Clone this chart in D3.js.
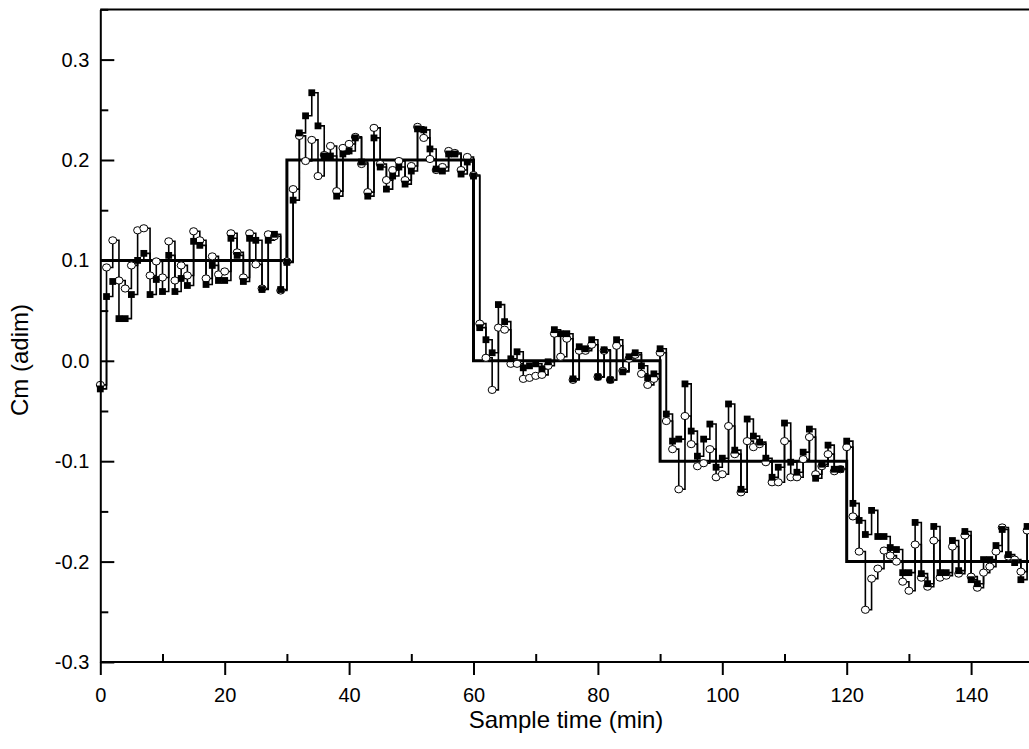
<!DOCTYPE html>
<html>
<head>
<meta charset="utf-8">
<script src="https://cdn.jsdelivr.net/npm/d3@7"></script>
<style>
  html, body { margin: 0; padding: 0; background: #fff; }
  svg { display: block; font-family: "Liberation Sans", Arial, sans-serif; }
</style>
</head>
<body>
<svg id="chart" width="1029" height="749"></svg>
<script>
// ---------------- data ----------------
const sampleTimes = d3.range(0, 150, 1); // sampling grid (min)

const setpointTimes  = [0, 30, 60, 90, 120, 150];
const setpointValues = [0.1, 0.2, 0.0, -0.1, -0.2, -0.2];

const squareValues = [
  -0.028, 0.064, 0.079, 0.042, 0.042, 0.066, 0.100, 0.107, 0.066, 0.081,
   0.069, 0.105, 0.069, 0.082, 0.075, 0.119, 0.115, 0.076, 0.095, 0.080,
   0.080, 0.122, 0.105, 0.079, 0.122, 0.120, 0.071, 0.120, 0.126, 0.071,
   0.098, 0.160, 0.227, 0.244, 0.267, 0.234, 0.204, 0.204, 0.164, 0.206,
   0.209, 0.222, 0.198, 0.164, 0.222, 0.193, 0.171, 0.184, 0.193, 0.176,
   0.189, 0.231, 0.230, 0.211, 0.191, 0.189, 0.206, 0.206, 0.186, 0.198,
   0.184, 0.033, 0.021, 0.008, 0.056, 0.039, 0.002, 0.009, -0.007, -0.005,
  -0.003, -0.008, -0.001, 0.031, 0.027, 0.027, -0.018, 0.014, 0.012, 0.021,
  -0.016, 0.011, -0.019, 0.021, -0.011, 0.004, 0.008, -0.005, -0.017, -0.013,
   0.012, -0.053, -0.080, -0.078, -0.023, -0.070, -0.095, -0.078, -0.063, -0.106,
  -0.097, -0.043, -0.089, -0.128, -0.058, -0.075, -0.081, -0.097, -0.116, -0.106,
  -0.062, -0.101, -0.111, -0.091, -0.068, -0.117, -0.103, -0.084, -0.108, -0.108,
  -0.080, -0.142, -0.159, -0.173, -0.149, -0.175, -0.175, -0.186, -0.188, -0.211,
  -0.211, -0.161, -0.212, -0.222, -0.165, -0.211, -0.211, -0.179, -0.209, -0.170,
  -0.218, -0.222, -0.198, -0.198, -0.184, -0.168, -0.193, -0.201, -0.218, -0.165
];

const circleValues = [
  -0.024, 0.093, 0.120, 0.080, 0.072, 0.095, 0.130, 0.132, 0.085, 0.099,
   0.083, 0.119, 0.080, 0.095, 0.085, 0.129, 0.120, 0.082, 0.104, 0.086,
   0.089, 0.127, 0.108, 0.083, 0.127, 0.096, 0.072, 0.126, 0.124, 0.070,
   0.099, 0.171, 0.224, 0.199, 0.220, 0.184, 0.205, 0.214, 0.169, 0.212,
   0.216, 0.223, 0.196, 0.168, 0.232, 0.196, 0.180, 0.190, 0.199, 0.180,
   0.194, 0.233, 0.222, 0.201, 0.190, 0.193, 0.209, 0.207, 0.190, 0.203,
   0.185, 0.037, 0.003, -0.029, 0.033, 0.031, -0.003, -0.003, -0.018, -0.017,
  -0.015, -0.014, -0.005, 0.027, 0.004, 0.022, -0.019, 0.010, 0.010, 0.016,
  -0.016, 0.010, -0.019, 0.015, -0.010, 0.002, 0.006, -0.013, -0.024, -0.018,
   0.008, -0.060, -0.088, -0.128, -0.055, -0.083, -0.105, -0.102, -0.088, -0.116,
  -0.113, -0.065, -0.093, -0.131, -0.080, -0.086, -0.083, -0.101, -0.121, -0.121,
  -0.080, -0.116, -0.116, -0.098, -0.076, -0.113, -0.105, -0.093, -0.110, -0.108,
  -0.086, -0.155, -0.190, -0.248, -0.217, -0.207, -0.189, -0.194, -0.200, -0.220,
  -0.229, -0.183, -0.216, -0.225, -0.179, -0.216, -0.214, -0.185, -0.212, -0.174,
  -0.215, -0.226, -0.211, -0.205, -0.190, -0.166, -0.195, -0.198, -0.210, -0.169
];

const xMajorTicks = [0, 20, 40, 60, 80, 100, 120, 140];
const xMinorTicks = [10, 30, 50, 70, 90, 110, 130, 150];
const yMajorTicks = [0.3, 0.2, 0.1, 0.0, -0.1, -0.2, -0.3];
const yMinorTicks = [0.35, 0.25, 0.15, 0.05, -0.05, -0.15, -0.25];
const xTitle = "Sample time (min)";
const yTitle = "Cm (adim)";

// ---------------- layout ----------------
const svg = d3.select("#chart");
const x = d3.scaleLinear().domain([0, 150]).range([100.3, 1033.3]);
const y = d3.scaleLinear().domain([-0.3, 0.35]).range([662, 9.4]);

const fmt = d => d3.format(".1f")(d).replace("−", "-");

// top frame line
svg.append("line")
  .attr("x1", x(0)).attr("x2", x(150))
  .attr("y1", y(0.35)).attr("y2", y(0.35))
  .attr("stroke", "#000").attr("stroke-width", 2);

// ---------------- series ----------------
const sq = sampleTimes.map((t, i) => ({t, v: squareValues[i]}));
const ci = sampleTimes.map((t, i) => ({t, v: circleValues[i]}));
const sp = setpointTimes.map((t, i) => ({t, v: setpointValues[i]}));

const stepLine = d3.line().x(d => x(d.t)).y(d => y(d.v)).curve(d3.curveStepAfter);

const plot = svg.append("g");

plot.append("path").datum(sq).attr("d", stepLine)
  .attr("fill", "none").attr("stroke", "#000").attr("stroke-width", 1.6);
plot.append("path").datum(ci).attr("d", stepLine)
  .attr("fill", "none").attr("stroke", "#000").attr("stroke-width", 1.6);
plot.append("path").datum(sp).attr("d", stepLine)
  .attr("fill", "none").attr("stroke", "#000").attr("stroke-width", 3);

plot.selectAll("ellipse.c").data(ci).join("ellipse").attr("class", "c")
  .attr("cx", d => x(d.t)).attr("cy", d => y(d.v))
  .attr("rx", 4).attr("ry", 3.6)
  .attr("fill", "#fff").attr("stroke", "#000").attr("stroke-width", 1);

plot.selectAll("rect.s").data(sq).join("rect").attr("class", "s")
  .attr("x", d => x(d.t) - 3.4).attr("y", d => y(d.v) - 3.4)
  .attr("width", 6.8).attr("height", 6.8)
  .attr("fill", "#000");

// ---------------- axes ----------------
function styleAxis(g) {
  g.selectAll("path.domain").attr("stroke", "#000").attr("stroke-width", 2);
  g.selectAll(".tick line").attr("stroke", "#000").attr("stroke-width", 2);
  g.selectAll(".tick text").attr("fill", "#000")
    .style("font-family", "'Liberation Sans', Arial, sans-serif")
    .style("font-size", "20px");
}

// x axis major (outward) with labels
const gx = svg.append("g").attr("transform", `translate(0,${y(-0.3)})`)
  .call(d3.axisBottom(x).tickValues(xMajorTicks).tickSize(13).tickSizeOuter(0)
        .tickPadding(13).tickFormat(d3.format("d")));
styleAxis(gx);
gx.selectAll("path.domain").attr("d", `M${x(0)},0H${x(150)}`);

// x axis minor (inward)
const gxm = svg.append("g").attr("transform", `translate(0,${y(-0.3)})`)
  .call(d3.axisBottom(x).tickValues(xMinorTicks).tickSize(-8).tickSizeOuter(0).tickFormat(""));
styleAxis(gxm);
gxm.select("path.domain").remove();

// y axis major (inward) with labels
const gy = svg.append("g").attr("transform", `translate(${x(0)},0)`)
  .call(d3.axisLeft(y).tickValues(yMajorTicks).tickSize(-14).tickSizeOuter(0)
        .tickPadding(11).tickFormat(fmt));
styleAxis(gy);

// y axis minor (inward)
const gym = svg.append("g").attr("transform", `translate(${x(0)},0)`)
  .call(d3.axisLeft(y).tickValues(yMinorTicks).tickSize(-8).tickSizeOuter(0).tickFormat(""));
styleAxis(gym);
gym.select("path.domain").remove();

// titles
svg.append("text")
  .attr("x", 566).attr("y", 728)
  .attr("text-anchor", "middle")
  .style("font-size", "24px").attr("fill", "#000")
  .text(xTitle);

svg.append("text")
  .attr("transform", "translate(28,360) rotate(-90)")
  .attr("text-anchor", "middle")
  .style("font-size", "24px").attr("fill", "#000")
  .text(yTitle);
</script>
</body>
</html>
